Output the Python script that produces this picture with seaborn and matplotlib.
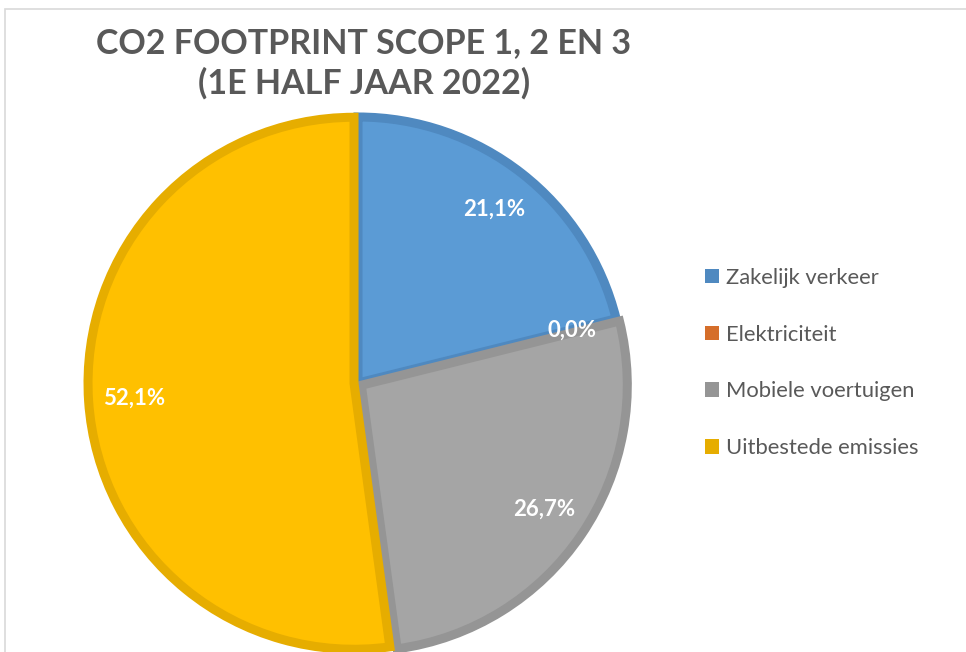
import matplotlib
matplotlib.use("Agg")
import matplotlib.pyplot as plt
from matplotlib.patches import Patch, Rectangle
import seaborn as sns

# === DATA ===
categories = ["Zakelijk verkeer", "Elektriciteit", "Mobiele voertuigen", "Uitbestede emissies"]
shares = [21.1, 0.0, 26.7, 52.1]
title = "CO2 FOOTPRINT SCOPE 1, 2 EN 3\n(1E HALF JAAR 2022)"

# === STYLE ===
fill_colors = ["#5B9BD5", "#ED7D31", "#A5A5A5", "#FFC000"]
edge_colors = ["#4F89C0", "#D56E2A", "#959595", "#E6AD00"]
text_grey = "#595959"

sns.set_theme(style="white")
plt.rcParams['font.family'] = ['Lato', 'DejaVu Sans']

W, H = 966, 652
fig = plt.figure(figsize=(W / 100, H / 100), dpi=100)

# light grey chart frame (runs off the right/bottom edge)
fig.patches.append(Rectangle((5 / W, -0.05), 1.0, (H - 9) / H + 0.05,
                             transform=fig.transFigure, fill=False,
                             edgecolor="#D9D9D9", linewidth=1.2))

# pie axes: centre ~ (358, 383) px, radius ~ 266 px
cx, cy, r = 358, 383, 266
ax = fig.add_axes([(cx - r) / W, (H - cy - r) / H, 2 * r / W, 2 * r / H])

total = sum(shares)
wedges, texts, autotexts = ax.pie(
    shares,
    colors=fill_colors,
    startangle=90,
    counterclock=False,
    explode=[0.0, 0.0, 0.015, 0.015],
    # show the original (Excel) percentages, not re-normalised ones
    autopct=lambda p: f"{p * total / 100:.1f}%".replace(".", ","),
    pctdistance=0.83,
    wedgeprops=dict(linewidth=6.5),
    textprops=dict(color="white", fontsize=16, fontweight="bold"),
)
for w, ec, v in zip(wedges, edge_colors, shares):
    w.set_edgecolor(ec)
    w.set_clip_on(False)
    if v == 0:
        w.set_linewidth(0)
ax.set_xlim(-1, 1)
ax.set_ylim(-1, 1)
ax.set_aspect("equal")
ax.axis("off")

fig.text(364 / W, 1 - 63 / H, title, ha="center", va="center",
         fontsize=24.5, fontweight="bold", color=text_grey, linespacing=1.3)

handles = [Patch(facecolor=ec, edgecolor="none") for ec in edge_colors]
fig.legend(handles, categories, loc="center left",
           bbox_to_anchor=(705 / W, 1 - 363 / H), frameon=False,
           fontsize=15.8, labelcolor=text_grey, handlelength=0.64,
           handleheight=0.64, handletextpad=0.33, labelspacing=1.68,
           borderpad=0, borderaxespad=0)

fig.savefig("out.png", dpi=100)
plt.close(fig)
